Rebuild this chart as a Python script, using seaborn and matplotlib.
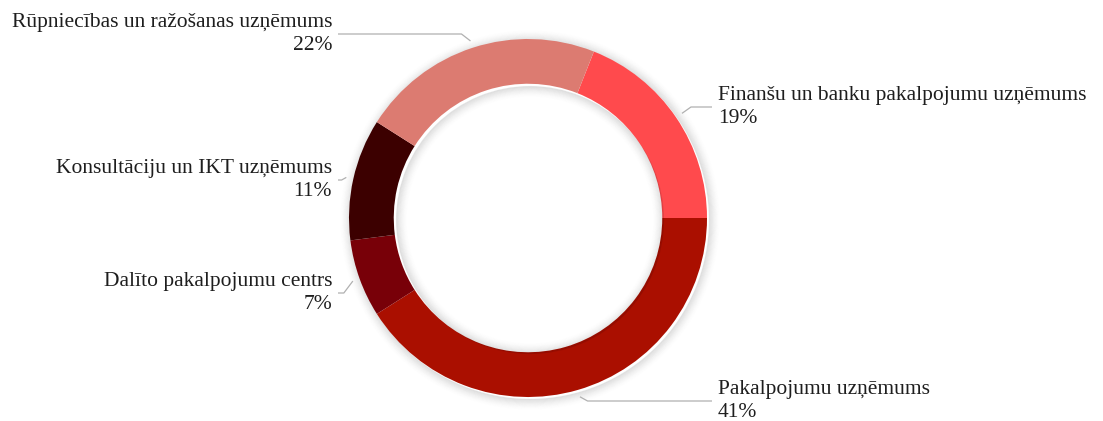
import numpy as np
import matplotlib
matplotlib.use("Agg")
import matplotlib.pyplot as plt
from matplotlib.patches import Wedge
import seaborn as sns

# ---- data ----
categories = [
    "Finanšu un banku pakalpojumu uzņēmums",
    "Pakalpojumu uzņēmums",
    "Dalīto pakalpojumu centrs",
    "Konsultāciju un IKT uzņēmums",
    "Rūpniecības un ražošanas uzņēmums",
]
values = [19, 41, 7, 11, 22]
colors = ["#FF4A4D", "#AA0F00", "#780008", "#3C0000", "#DC7B71"]

sns.set_theme(style="white")
plt.rcParams["font.family"] = ["Liberation Serif", "DejaVu Serif"]

W, H = 1103, 421
fig = plt.figure(figsize=(W / 100, H / 100), dpi=100)
ax = fig.add_axes([0, 0, 1, 1])

cx, cy = 528, H - 218
R = 179
ring_w = 0.25 * R
r_in = R - ring_w

# soft shadow (outer and inner glow)
n = 12
for i in range(n):
    a = 0.10 * (1 - i / n) ** 1.5
    ax.add_patch(Wedge((cx + 2, cy - 2), R + 1 + i * 0.9, 0, 360, width=1.2,
                       facecolor="black", alpha=a, edgecolor="none", zorder=1))
    ax.add_patch(Wedge((cx + 2, cy - 2), r_in - 0.2 - i * 0.9, 0, 360, width=1.2,
                       facecolor="black", alpha=a, edgecolor="none", zorder=3))

wedges, _ = ax.pie(values, colors=colors, startangle=68.4, counterclock=False,
                   center=(cx, cy), radius=R, frame=True,
                   wedgeprops=dict(width=ring_w, edgecolor="none", linewidth=0, zorder=2))
ax.set_xlim(0, W)
ax.set_ylim(0, H)
ax.set_aspect("equal")
ax.axis("off")

# label layout: (text x, block mid y in pixels from top, side)
layout = [
    (718, 107, 1),
    (718, 401, 1),
    (332, 293, -1),
    (332, 180, -1),
    (332, 34, -1),
]

for w, cat, v, (tx, my, side) in zip(wedges, categories, values, layout):
    ang = np.deg2rad((w.theta1 + w.theta2) / 2)
    ax_ = cx + 1.04 * R * np.cos(ang)
    ay_ = cy + 1.04 * R * np.sin(ang)
    ly = H - my
    ex = ax_ + side * min(abs(ay_ - ly) * 1.8, 9)
    ax.plot([ax_, ex, tx - side * 6], [ay_, ly, ly], color="#b0b0b0", lw=0.9,
            zorder=4, solid_capstyle="butt")
    ax.text(tx, ly, f"{cat}\n{v}%", ha="left" if side > 0 else "right",
            multialignment="left" if side > 0 else "right", va="center",
            fontsize=15.5, color="#1e1e1e", linespacing=1.3, zorder=5)

fig.savefig("out.png", dpi=100, facecolor="white")
